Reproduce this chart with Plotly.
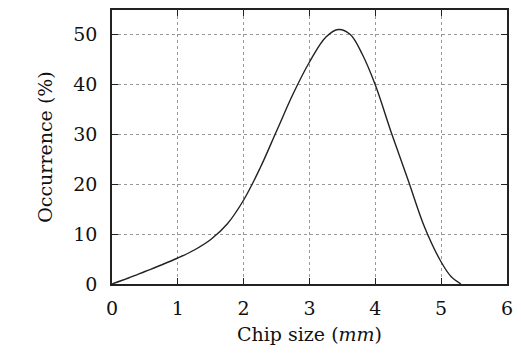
import plotly.graph_objects as go

chip_size = [0, 0.25, 0.5, 0.75, 1.0, 1.25, 1.5, 1.75, 2.0, 2.25, 2.5, 2.75, 3.0, 3.25, 3.44, 3.62, 3.8, 4.0, 4.25, 4.5, 4.75, 5.0, 5.15, 5.30]
occurrence = [0, 1.2, 2.5, 3.8, 5.2, 6.8, 8.9, 12.0, 16.8, 23.2, 30.6, 38.0, 44.4, 49.4, 50.9, 49.9, 46.0, 39.8, 30.0, 20.7, 11.3, 4.4, 1.5, 0]

x_ticks = [0, 1, 2, 3, 4, 5, 6]
y_ticks = [0, 10, 20, 30, 40, 50]

font_family = "DejaVu Serif, Liberation Serif, serif"

fig = go.Figure()
fig.add_trace(go.Scatter(
    x=chip_size, y=occurrence, mode="lines",
    line=dict(color="#222222", width=1.4, shape="spline", smoothing=1.0),
    showlegend=False,
))

axis_common = dict(
    showline=True, linecolor="#222222", linewidth=1.5, mirror="ticks",
    ticks="inside", ticklen=6, tickwidth=1.2, tickcolor="#222222",
    showgrid=True, gridcolor="#999999", griddash="dot", gridwidth=1,
    zeroline=False,
    tickfont=dict(family=font_family, size=19, color="#111111"),
)

# page body has an 8px margin: the figure is offset by 8px
fig.update_layout(
    width=513, height=352,
    margin=dict(l=104, r=14, t=0, b=76),
    paper_bgcolor="white", plot_bgcolor="white",
    xaxis=dict(range=[0, 6], tickvals=x_ticks, ticklabelstandoff=6,
               title=dict(text="Chip size (<i>mm</i>)", standoff=10,
                          font=dict(family=font_family, size=19, color="#111111")),
               **axis_common),
    yaxis=dict(range=[0, 54.8], tickvals=y_ticks, ticklabelstandoff=9,
               title=dict(text="Occurrence (%)", standoff=16,
                          font=dict(family=font_family, size=19, color="#111111")),
               **axis_common),
)

fig.write_html("out.html")
